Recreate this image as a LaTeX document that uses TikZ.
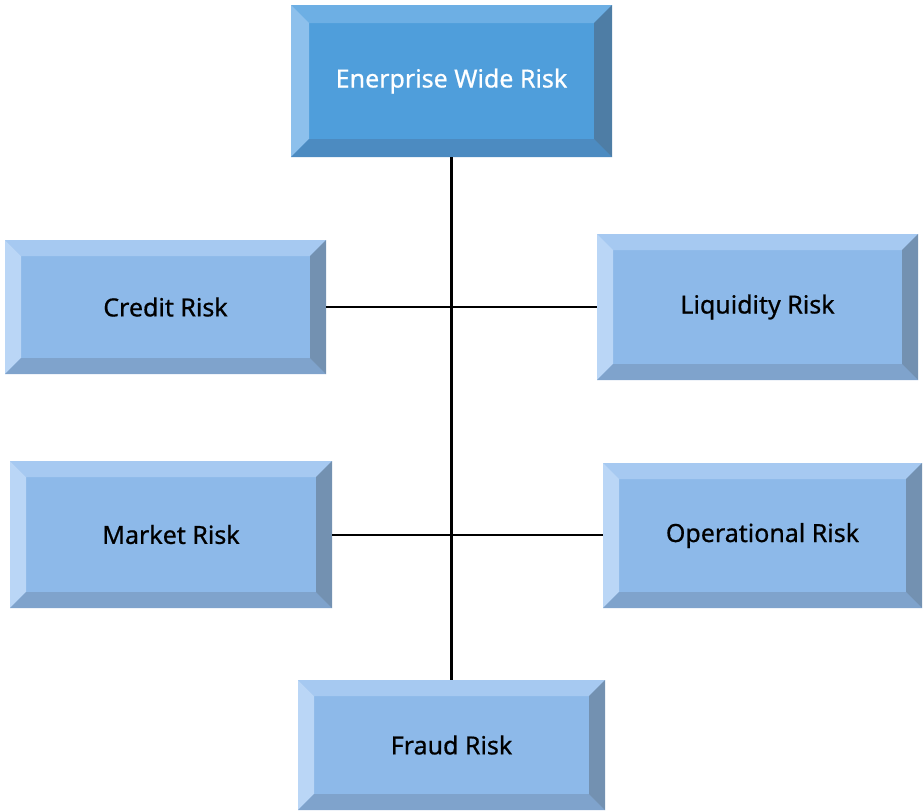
\documentclass[tikz,border=0pt]{standalone}
\usepackage{fontspec}
\setmainfont[FakeBold=0.6]{Noto Sans}
\usetikzlibrary{calc}
\definecolor{dFace}{HTML}{4F9EDB}
\definecolor{dTop}{HTML}{6DAFE4}
\definecolor{dLeft}{HTML}{8DC0EC}
\definecolor{dBot}{HTML}{4C8BC1}
\definecolor{dRight}{HTML}{4E7DA5}
\definecolor{lFace}{HTML}{8DB9E9}
\definecolor{lTop}{HTML}{A6C9F1}
\definecolor{lLeft}{HTML}{BAD6F6}
\definecolor{lBot}{HTML}{7FA3CC}
\definecolor{lRight}{HTML}{7391B1}
\tikzset{
  bevel/.style n args={6}{inner sep=0pt, fill=#1,
    path picture={
      \coordinate (pNW) at (path picture bounding box.north west);
      \coordinate (pNE) at (path picture bounding box.north east);
      \coordinate (pSW) at (path picture bounding box.south west);
      \coordinate (pSE) at (path picture bounding box.south east);
      \fill[#2] (pNW) -- (pNE) -- ($(pNE)+(-#6,-#6)$) -- ($(pNW)+(#6,-#6)$) -- cycle;
      \fill[#3] (pNW) -- ($(pNW)+(#6,-#6)$) -- ($(pSW)+(#6,#6)$) -- (pSW) -- cycle;
      \fill[#4] (pSW) -- ($(pSW)+(#6,#6)$) -- ($(pSE)+(-#6,#6)$) -- (pSE) -- cycle;
      \fill[#5] (pNE) -- (pSE) -- ($(pSE)+(-#6,#6)$) -- ($(pNE)+(-#6,-#6)$) -- cycle;
    }},
  darkbox/.style={bevel={dFace}{dTop}{dLeft}{dBot}{dRight}{18pt}, text=white, font=\fontsize{25}{30}\selectfont},
  lightbox/.style={bevel={lFace}{lTop}{lLeft}{lBot}{lRight}{16pt}, text=black, font=\fontsize{25}{30}\selectfont},
  vline/.style={line width=3pt, black},
  hline/.style={line width=2pt, black}
}
\begin{document}
\begin{tikzpicture}[x=1pt,y=-1pt]
\useasboundingbox (0,0) rectangle (923,811);
\node[darkbox, minimum width=321pt, minimum height=152pt] (top) at (451.5,81) {Enerprise Wide Risk};
\node[lightbox, minimum width=321pt, minimum height=134pt] (credit) at (165.5,307) {Credit Risk};
\node[lightbox, minimum width=321pt, minimum height=146pt] (liq) at (757.5,307) {Liquidity Risk};
\node[lightbox, minimum width=322pt, minimum height=147pt] (market) at (171,534.5) {Market Risk};
\node[lightbox, minimum width=319pt, minimum height=145pt] (oper) at (762.5,535.5) {Operational Risk};
\node[lightbox, minimum width=307pt, minimum height=130pt] (fraud) at (451.5,745) {Fraud Risk};
\draw[vline] (top.south) -- (fraud.north);
\draw[hline] (credit.east) -- (liq.west);
\draw[hline] (market.east) -- (market.east -| oper.west);
\end{tikzpicture}
\end{document}
